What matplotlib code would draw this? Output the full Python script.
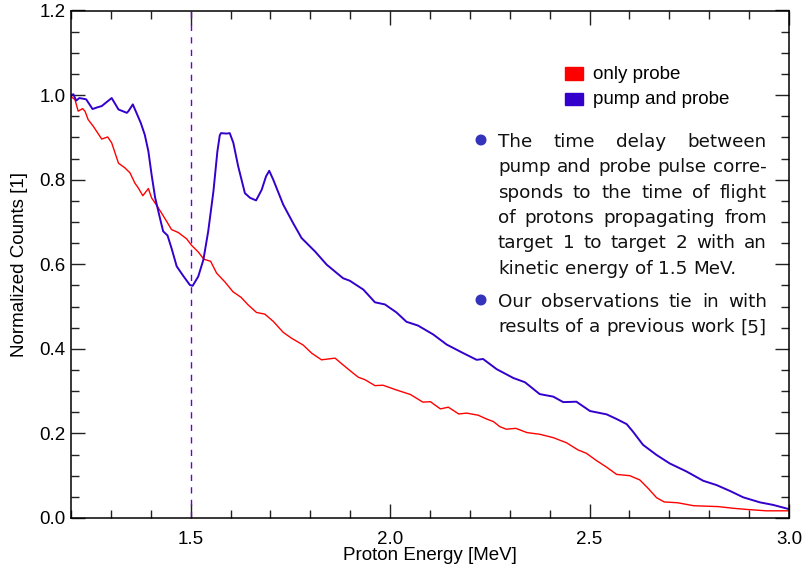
import matplotlib
matplotlib.use('Agg')
import matplotlib.pyplot as plt
from matplotlib.ticker import MultipleLocator, FormatStrFormatter
from matplotlib.patches import Rectangle, Circle
from matplotlib.transforms import IdentityTransform

# only probe (red)
energy_probe = [1.200, 1.210, 1.218, 1.229, 1.235, 1.243, 1.256, 1.277, 1.292, 1.302,
                1.319, 1.335, 1.348, 1.360, 1.369, 1.380, 1.394, 1.402, 1.415, 1.427,
                1.440, 1.452, 1.469, 1.490, 1.502, 1.519, 1.533, 1.550, 1.565, 1.586,
                1.606, 1.626, 1.644, 1.665, 1.686, 1.707, 1.732, 1.753, 1.782, 1.803,
                1.828, 1.862, 1.882, 1.908, 1.920, 1.937, 1.962, 1.982, 2.015, 2.051,
                2.082, 2.101, 2.126, 2.146, 2.172, 2.192, 2.221, 2.242, 2.259, 2.275,
                2.291, 2.315, 2.343, 2.375, 2.409, 2.442, 2.471, 2.492, 2.517, 2.543,
                2.568, 2.601, 2.626, 2.647, 2.668, 2.687, 2.721, 2.761, 2.822, 2.860,
                2.897, 2.943, 3.000]
counts_probe = [0.997, 0.989, 0.962, 0.968, 0.962, 0.942, 0.926, 0.896, 0.901, 0.887,
                0.839, 0.828, 0.816, 0.792, 0.780, 0.762, 0.779, 0.757, 0.739, 0.721,
                0.701, 0.682, 0.675, 0.660, 0.645, 0.629, 0.612, 0.607, 0.579, 0.558,
                0.535, 0.522, 0.504, 0.486, 0.482, 0.465, 0.439, 0.425, 0.409, 0.390,
                0.374, 0.378, 0.362, 0.342, 0.333, 0.327, 0.313, 0.314, 0.303, 0.292,
                0.274, 0.275, 0.258, 0.262, 0.246, 0.248, 0.243, 0.234, 0.228, 0.216,
                0.210, 0.212, 0.202, 0.198, 0.190, 0.178, 0.161, 0.153, 0.136, 0.120,
                0.103, 0.100, 0.090, 0.070, 0.048, 0.038, 0.036, 0.029, 0.027, 0.023,
                0.020, 0.017, 0.017]

# pump and probe (blue)
energy_pump = [1.200, 1.206, 1.213, 1.221, 1.238, 1.254, 1.266, 1.277, 1.302, 1.319,
               1.340, 1.344, 1.355, 1.375, 1.385, 1.394, 1.402, 1.411, 1.423, 1.431,
               1.442, 1.452, 1.465, 1.481, 1.498, 1.505, 1.519, 1.532, 1.544, 1.557,
               1.567, 1.573, 1.576, 1.590, 1.598, 1.607, 1.619, 1.636, 1.649, 1.664,
               1.678, 1.689, 1.697, 1.707, 1.732, 1.757, 1.778, 1.812, 1.841, 1.882,
               1.899, 1.933, 1.962, 1.987, 2.016, 2.041, 2.070, 2.108, 2.142, 2.183,
               2.217, 2.233, 2.267, 2.309, 2.338, 2.375, 2.409, 2.434, 2.467, 2.501,
               2.543, 2.568, 2.593, 2.609, 2.634, 2.668, 2.701, 2.743, 2.785, 2.818,
               2.852, 2.885, 2.927, 2.960, 3.000]
counts_pump = [1.000, 1.002, 0.987, 0.993, 0.990, 0.967, 0.971, 0.974, 0.993, 0.966,
               0.958, 0.962, 0.978, 0.934, 0.906, 0.867, 0.812, 0.757, 0.709, 0.678,
               0.668, 0.638, 0.595, 0.573, 0.551, 0.549, 0.571, 0.611, 0.678, 0.772,
               0.867, 0.905, 0.910, 0.909, 0.910, 0.887, 0.832, 0.768, 0.757, 0.751,
               0.776, 0.808, 0.821, 0.800, 0.741, 0.697, 0.662, 0.630, 0.599, 0.567,
               0.561, 0.540, 0.510, 0.505, 0.486, 0.464, 0.455, 0.434, 0.410, 0.390,
               0.374, 0.376, 0.352, 0.331, 0.321, 0.293, 0.287, 0.274, 0.275, 0.253,
               0.245, 0.234, 0.222, 0.204, 0.173, 0.149, 0.129, 0.110, 0.088, 0.078,
               0.064, 0.049, 0.037, 0.031, 0.021]

delay_energy = 1.5
legend_labels = ['only probe', 'pump and probe']
bullet1 = ['The time delay between',
           'pump and probe pulse corre-',
           'sponds to the time of flight',
           'of protons propagating from',
           'target 1 to target 2 with an',
           'kinetic energy of 1.5 MeV.']
bullet2 = ['Our observations tie in with',
           'results of a previous work [5]']

RED = '#ff0000'
BLUE = '#3300cc'
W, H = 805, 566

fig = plt.figure(figsize=(W / 100, H / 100), dpi=100)
ax = fig.add_axes([71 / W, 1 - 518 / H, (789 - 71) / W, (518 - 10.5) / H])

ax.plot(energy_probe, counts_probe, color=RED, lw=1.0)
ax.plot(energy_pump, counts_pump, color=BLUE, lw=1.4)
ax.axvline(delay_energy, color='#6600dd', lw=1.0, dashes=(4.5, 4.5))

ax.set_xlim(1.2, 3.0)
ax.set_ylim(0, 1.2)
ax.xaxis.set_major_locator(MultipleLocator(0.5))
ax.xaxis.set_minor_locator(MultipleLocator(0.1))
ax.yaxis.set_major_locator(MultipleLocator(0.2))
ax.yaxis.set_minor_locator(MultipleLocator(0.05))
ax.xaxis.set_major_formatter(FormatStrFormatter('%.1f'))
ax.yaxis.set_major_formatter(FormatStrFormatter('%.1f'))
ax.tick_params(which='both', direction='in', top=True, right=True, width=1.0, color='#222222')
ax.tick_params(which='major', length=10)
ax.tick_params(which='minor', length=5.5)
ax.tick_params(axis='x', pad=9)
ax.tick_params(axis='y', pad=4)
for lab in ax.get_xticklabels() + ax.get_yticklabels():
    lab.set_family('Liberation Sans')
    lab.set_fontsize(13.5)
for s in ax.spines.values():
    s.set_linewidth(1.1)

ax.set_xlabel('Proton Energy [MeV]', family='Liberation Sans', fontsize=13.5, labelpad=0)
ax.set_ylabel('Normalized Counts [1]', family='Liberation Sans', fontsize=13.5, labelpad=8)

# everything below is placed in pixel coordinates (origin bottom left)
px = IdentityTransform()

# legend
for i, (lab, col) in enumerate(zip(legend_labels, [RED, BLUE])):
    top = 67.3 + i * 25.4
    fig.patches.append(Rectangle((565, H - top - 12.3), 18, 12.3, color=col, transform=px))
    fig.text(593, H - top - 11.5, lab, transform=px, family='Liberation Sans',
             fontsize=13.5, va='baseline')

# bullet text, justified between two edges like the LaTeX source
renderer = fig.canvas.get_renderer()
X0, X1 = 498, 767
text_kw = dict(family='DejaVu Sans', fontsize=13.2, color='#111111', va='baseline')


def width_of(s):
    t = fig.text(0, 0, s, transform=px, **text_kw)
    w = t.get_window_extent(renderer).width
    t.remove()
    return w


def put_line(line, y, justify):
    words = line.split(' ')
    widths = [width_of(w) for w in words]
    if justify and len(words) > 1:
        gap = (X1 - X0 - sum(widths)) / (len(words) - 1)
    else:
        gap = width_of('a a') - 2 * width_of('a')
    x = X0
    for w, wd in zip(words, widths):
        fig.text(x, H - y, w, transform=px, **text_kw)
        x += wd + gap


for lines, y0 in [(bullet1, 147), (bullet2, 307)]:
    fig.patches.append(Circle((481, H - y0 + 7), 4.8, color='#3333bb', transform=px))
    for k, line in enumerate(lines):
        put_line(line, y0 + k * 25.3, justify=(k < len(lines) - 1))

fig.savefig('out.png', dpi=100)
